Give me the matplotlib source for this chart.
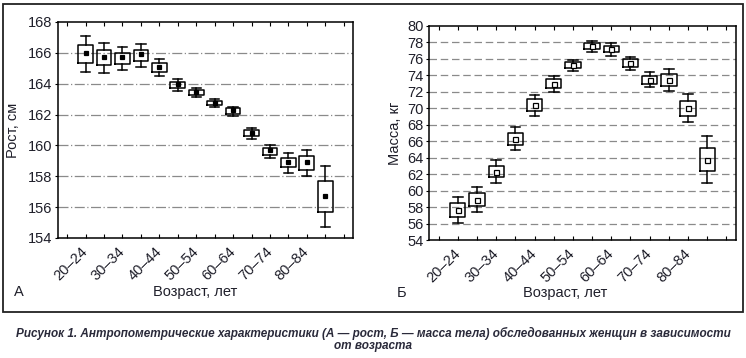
import matplotlib
matplotlib.use("Agg")
from matplotlib import pyplot as plt
from matplotlib.patches import Rectangle
from matplotlib.transforms import ScaledTranslation

plt.rcParams["font.family"] = ["Liberation Sans", "DejaVu Sans"]

ages = ["20–24", "25–29", "30–34", "35–39", "40–44", "45–49", "50–54",
        "55–59", "60–64", "65–69", "70–74", "75–79", "80–84", "85+"]

# рост, см
h_mean = [166.0, 165.7, 165.7, 165.9, 165.08, 164.0, 163.48, 162.75, 162.28, 160.82, 159.68, 158.9, 158.92, 156.74]
h_box_lo = [165.31, 165.18, 165.25, 165.46, 164.73, 163.72, 163.25, 162.6, 162.06, 160.62, 159.38, 158.58, 158.41, 155.69]
h_box_hi = [166.54, 166.2, 166.02, 166.2, 165.31, 164.1, 163.59, 162.86, 162.41, 160.99, 159.83, 159.2, 159.33, 157.7]
h_whis_lo = [164.75, 164.67, 164.88, 165.05, 164.47, 163.53, 163.12, 162.47, 161.91, 160.43, 159.18, 158.22, 158.04, 154.7]
h_whis_hi = [167.12, 166.65, 166.39, 166.6, 165.61, 164.28, 163.74, 162.99, 162.52, 161.12, 160.0, 159.51, 159.7, 158.68]

# масса, кг
w_mean = [57.59, 58.86, 62.29, 66.23, 70.45, 72.96, 75.26, 77.61, 77.21, 75.47, 73.4, 73.4, 70.0, 63.76]
w_box_lo = [56.78, 58.12, 61.67, 65.5, 69.64, 72.43, 74.9, 77.17, 76.8, 74.98, 73.0, 72.75, 69.07, 62.37]
w_box_hi = [58.49, 59.71, 63.02, 66.96, 71.09, 73.52, 75.59, 77.89, 77.53, 75.95, 73.93, 74.13, 70.85, 65.2]
w_whis_lo = [56.04, 57.39, 60.94, 64.9, 69.03, 71.94, 74.53, 76.8, 76.36, 74.62, 72.55, 72.06, 68.3, 60.94]
w_whis_hi = [59.18, 60.45, 63.71, 67.69, 71.66, 73.97, 75.87, 78.18, 77.98, 76.28, 74.37, 74.74, 71.7, 66.6]

caption1 = ("Рисунок 1. Антропометрические характеристики (А — рост, Б — масса тела) "
            "обследованных женщин в зависимости")
caption2 = "от возраста"

text_color = "#1f1f2a"


def draw_panel(fig, ax, mean, blo, bhi, wlo, whi, ylim, grid_ls, mfc, ms):
    stats = []
    for i in range(len(ages)):
        stats.append(dict(med=mean[i], q1=blo[i], q3=bhi[i],
                          whislo=wlo[i], whishi=whi[i], fliers=[]))
    pos = list(range(len(ages)))
    ax.bxp(stats, positions=pos, widths=0.8, capwidths=0.5, showfliers=False,
           boxprops=dict(color="black", linewidth=1.1),
           whiskerprops=dict(color="black", linewidth=1.1),
           capprops=dict(color="black", linewidth=1.1),
           medianprops=dict(linewidth=0))
    ax.plot(pos, mean, "s", color="black", mfc=mfc, mec="black", ms=ms, mew=0.9)
    ax.set_xlim(-1.5, len(ages) + 0.5)
    ax.set_ylim(*ylim)
    ax.set_yticks(range(ylim[0], ylim[1] + 1, 2))
    ticks = list(range(-1, len(ages) + 1))
    labels = [ages[t] if 0 <= t < len(ages) and t % 2 == 0 else "" for t in ticks]
    ax.set_xticks(ticks)
    ax.set_xticklabels(labels, rotation=45, ha="right", va="center",
                       rotation_mode="anchor")
    shift = ScaledTranslation(4 / 72, 1 / 72, fig.dpi_scale_trans)
    for lbl in ax.get_xticklabels():
        lbl.set_transform(lbl.get_transform() + shift)
    ax.tick_params(axis="x", direction="in", length=3, top=True, pad=8,
                   labelsize=10.5, labelcolor=text_color)
    ax.tick_params(axis="y", direction="out", length=2, labelsize=10.5,
                   labelcolor=text_color, pad=2)
    for t in ax.get_yticks()[1:-1]:
        ax.axhline(t, color="#8a8a8a", lw=0.9, ls=grid_ls, zorder=0)
    for s in ax.spines.values():
        s.set_linewidth(1.1)


fig = plt.figure(figsize=(7.46, 3.58), dpi=100)

ax1 = fig.add_axes([0.0777, 0.3352, 0.3954, 0.6034])
draw_panel(fig, ax1, h_mean, h_box_lo, h_box_hi, h_whis_lo, h_whis_hi,
           (154, 168), (0, (8, 2, 1, 2)), "black", 2.6)
ax1.set_ylabel("Рост, см", fontsize=10.5, color=text_color, labelpad=6)

ax2 = fig.add_axes([0.5751, 0.3296, 0.4115, 0.5978])
draw_panel(fig, ax2, w_mean, w_box_lo, w_box_hi, w_whis_lo, w_whis_hi,
           (54, 80), (0, (6, 3)), "white", 3.6)
ax2.set_ylabel("Масса, кг", fontsize=10.5, color=text_color, labelpad=4)

fig.text(195 / 746, 1 - 292 / 358, "Возраст, лет", ha="center", va="center",
         fontsize=10.5, color=text_color)
fig.text(565 / 746, 1 - 293 / 358, "Возраст, лет", ha="center", va="center",
         fontsize=10.5, color=text_color)
fig.text(19 / 746, 1 - 292 / 358, "А", ha="center", va="center",
         fontsize=10.5, color=text_color)
fig.text(402 / 746, 1 - 293 / 358, "Б", ha="center", va="center",
         fontsize=10.5, color=text_color)

fig.patches.append(Rectangle((3 / 746, 1 - 312 / 358), 740 / 746, 308 / 358,
                             transform=fig.transFigure, fill=False,
                             edgecolor="#222222", linewidth=1.3))

cap_font = ["DejaVu Sans Condensed", "Liberation Sans", "DejaVu Sans"]
cap_kw = dict(ha="center", va="center", fontweight="bold", fontstyle="italic",
              family=cap_font, color="#2a2a3a")
t1 = fig.text(0.5, 1 - 333 / 358, caption1, fontsize=10, **cap_kw)
fig.canvas.draw()
w = t1.get_window_extent().width
size = 10 * 722 / w
t1.set_fontsize(size)
fig.text(0.5, 1 - 346 / 358, caption2, fontsize=size, **cap_kw)

fig.savefig("out.png", dpi=100)
